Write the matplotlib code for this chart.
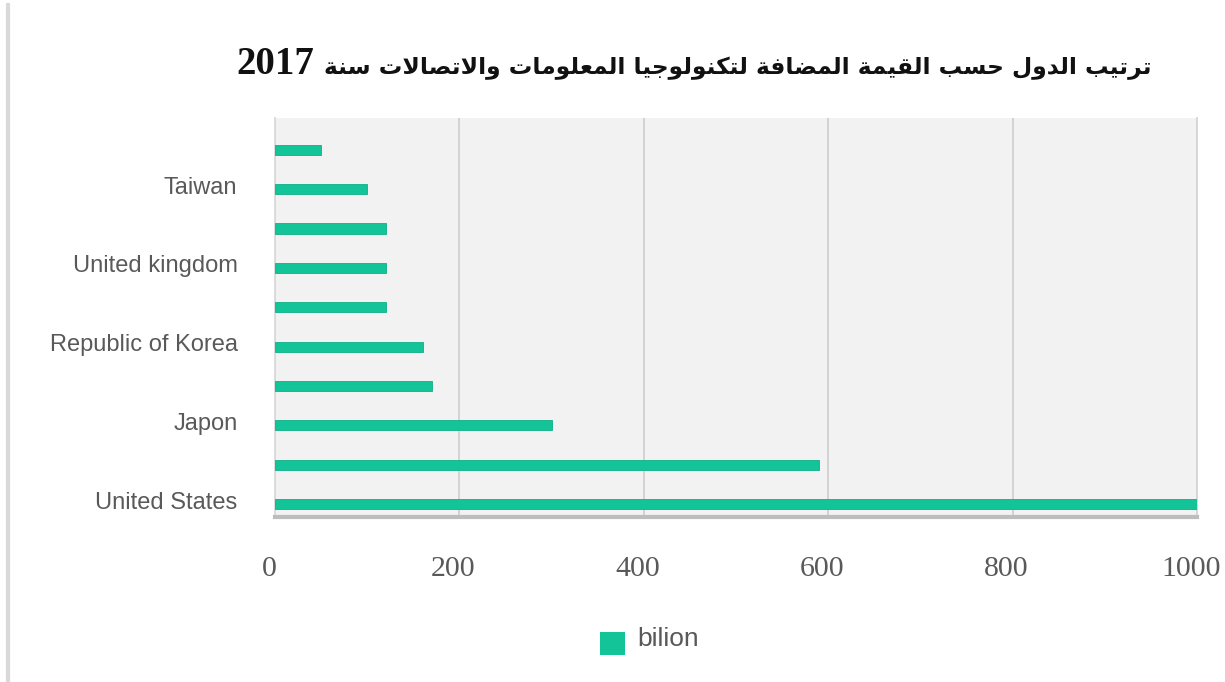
import matplotlib
matplotlib.use("Agg")
import matplotlib.pyplot as plt
from matplotlib.lines import Line2D
from matplotlib.patches import Rectangle
from matplotlib.transforms import ScaledTranslation

# ---------------- data ----------------
values = [1000, 590, 300, 170, 160, 120, 120, 120, 100, 50]   # bottom -> top
tick_labels = ["United States", "", "Japon", "", "Republic of Korea", "",
               "United kingdom", "", "Taiwan", ""]
x_ticks = [0, 200, 400, 600, 800, 1000]
series_name = "bilion"
title_ar = "ترتيب الدول حسب القيمة المضافة لتكنولوجيا المعلومات والاتصالات سنة"
title_year = "2017"

# ---------------- minimal Arabic shaping ----------------
FORMS = {
    'ا': ('\uFE8D', '\uFE8E', None, None),
    'ب': ('\uFE8F', '\uFE90', '\uFE91', '\uFE92'),
    'ة': ('\uFE93', '\uFE94', None, None),
    'ت': ('\uFE95', '\uFE96', '\uFE97', '\uFE98'),
    'ج': ('\uFE9D', '\uFE9E', '\uFE9F', '\uFEA0'),
    'ح': ('\uFEA1', '\uFEA2', '\uFEA3', '\uFEA4'),
    'د': ('\uFEA9', '\uFEAA', None, None),
    'ر': ('\uFEAD', '\uFEAE', None, None),
    'س': ('\uFEB1', '\uFEB2', '\uFEB3', '\uFEB4'),
    'ص': ('\uFEB9', '\uFEBA', '\uFEBB', '\uFEBC'),
    'ض': ('\uFEBD', '\uFEBE', '\uFEBF', '\uFEC0'),
    'ع': ('\uFEC9', '\uFECA', '\uFECB', '\uFECC'),
    'ف': ('\uFED1', '\uFED2', '\uFED3', '\uFED4'),
    'ق': ('\uFED5', '\uFED6', '\uFED7', '\uFED8'),
    'ك': ('\uFED9', '\uFEDA', '\uFEDB', '\uFEDC'),
    'ل': ('\uFEDD', '\uFEDE', '\uFEDF', '\uFEE0'),
    'م': ('\uFEE1', '\uFEE2', '\uFEE3', '\uFEE4'),
    'ن': ('\uFEE5', '\uFEE6', '\uFEE7', '\uFEE8'),
    'ه': ('\uFEE9', '\uFEEA', '\uFEEB', '\uFEEC'),
    'و': ('\uFEED', '\uFEEE', None, None),
    'ي': ('\uFEF1', '\uFEF2', '\uFEF3', '\uFEF4'),
    'لا': ('\uFEFB', '\uFEFC', None, None),
}


def shape_word(word):
    toks = []
    i = 0
    while i < len(word):
        if word[i] == 'ل' and i + 1 < len(word) and word[i + 1] == 'ا':
            toks.append('لا')
            i += 2
        else:
            toks.append(word[i])
            i += 1
    out = []
    for k, t in enumerate(toks):
        f = FORMS.get(t)
        if f is None:
            out.append(t)
            continue
        jp = k > 0 and FORMS.get(toks[k - 1]) is not None and FORMS[toks[k - 1]][2] is not None
        jn = f[2] is not None and k + 1 < len(toks) and toks[k + 1] in FORMS
        if jp and jn:
            out.append(f[3])
        elif jp:
            out.append(f[1])
        elif jn:
            out.append(f[2])
        else:
            out.append(f[0])
    return ''.join(out)


def visual_arabic(text):
    shaped = ' '.join(shape_word(w) for w in text.split(' '))
    return shaped[::-1]


# ---------------- figure ----------------
W, H = 1225, 682
fig = plt.figure(figsize=(W / 100, H / 100), dpi=100)
fig.patch.set_facecolor("white")

ax = fig.add_axes([275 / W, 1 - 517 / H, (1197 - 275) / W, (517 - 118) / H])
ax.set_facecolor("#F2F2F2")

ypos = list(range(len(values)))
bar_color = "#12C497"
ax.barh(ypos, values, height=0.26, color=bar_color, edgecolor="#10AF87",
        linewidth=0.6, zorder=3)

ax.set_xlim(0, 1000)
ax.set_ylim(-0.33, 9.81)
ax.set_xticks(x_ticks)
ax.set_xticklabels([str(v) for v in x_ticks], family="Liberation Serif",
                   fontsize=21.5, color="#595959")
ax.set_yticks(ypos)
ax.set_yticklabels(tick_labels, family="Liberation Sans", fontsize=17,
                   color="#595959")
ax.tick_params(axis="x", length=0, pad=28)
ax.tick_params(axis="y", length=0, pad=27)
up = ScaledTranslation(0, 4 / 100, fig.dpi_scale_trans)
for lbl in ax.get_yticklabels():
    lbl.set_transform(lbl.get_transform() + up)
left = ScaledTranslation(-6 / 100, 0, fig.dpi_scale_trans)
for lbl in ax.get_xticklabels():
    lbl.set_transform(lbl.get_transform() + left)
ax.xaxis.grid(True, color="#D0D0D0", linewidth=1.3, zorder=0)
ax.yaxis.grid(False)
ax.spines["top"].set_visible(False)
ax.spines["left"].set_color("#DADADA")
ax.spines["right"].set_color("#D6D6D6")
ax.spines["left"].set_linewidth(1.3)
ax.spines["right"].set_linewidth(1.3)
ax.spines["bottom"].set_color("#BDBDBD")
ax.spines["bottom"].set_linewidth(3)

# title (year on the left, Arabic text on the right)
fig.text(236 / W, 1 - 74 / H, title_year, ha="left", va="baseline",
         fontsize=28, fontweight="bold", family="Liberation Serif",
         color="#111111")
fig.text(1152 / W, 1 - 74 / H, visual_arabic(title_ar), ha="right",
         va="baseline", fontsize=16.8, fontweight="bold", family="DejaVu Sans",
         color="#111111")

# legend
fig.patches.append(Rectangle((600 / W, 1 - 655 / H), 25 / W, 23 / H,
                             transform=fig.transFigure, facecolor=bar_color,
                             edgecolor="none"))
fig.text(637 / W, 1 - 639 / H, series_name, ha="left", va="center",
         fontsize=19, family="Liberation Sans", color="#595959")

# left page border
fig.add_artist(Line2D([8 / W, 8 / W], [0, 1 - 5 / H], transform=fig.transFigure,
                      color="#D9D9D9", linewidth=3))

fig.savefig("out.png", dpi=100, facecolor="white")
